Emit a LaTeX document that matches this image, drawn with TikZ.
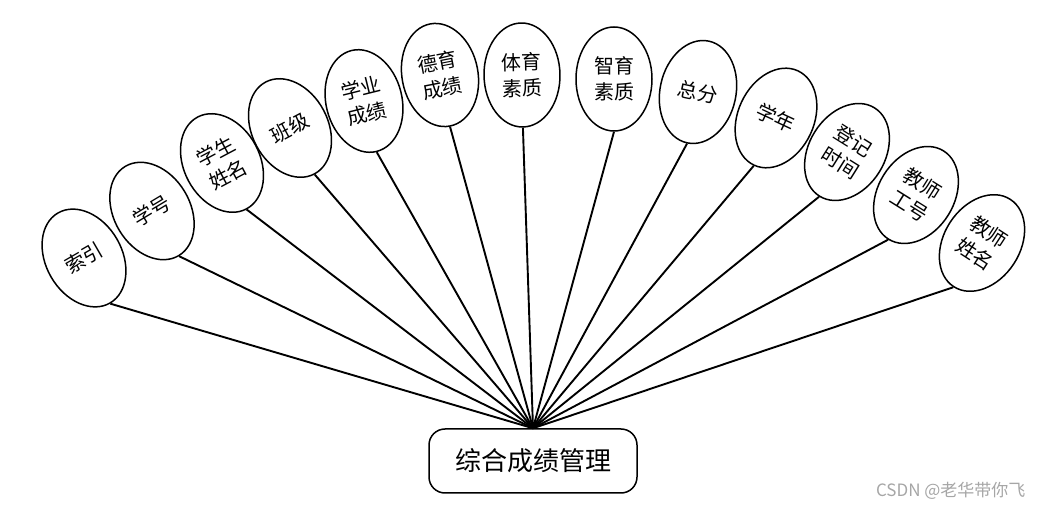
\documentclass[tikz,border=0pt]{standalone}
\usepackage{fontspec}
\setmainfont{Noto Sans CJK SC}
\usetikzlibrary{shapes.geometric}

\begin{document}
\begin{tikzpicture}[
    x=1pt, y=-1pt,
    attr/.style={ellipse, draw, line width=1.5pt, minimum width=76pt, minimum height=104pt, inner sep=0pt, align=center, fill=white, font=\fontsize{20}{26}\selectfont},
    entity/.style={rectangle, draw, rounded corners=16pt, line width=1.5pt, minimum width=208pt, minimum height=64pt, fill=white, font=\fontsize{26}{30}\selectfont},
    link/.style={line width=1.9pt},
]
\useasboundingbox (0,0) rectangle (1045,510);

\node[entity] (score) at (533,461) {综合成绩管理};

\node[attr, rotate=30]  (idx)     at (84,258)  {索引};
\node[attr, rotate=31]  (stuno)   at (152,211) {学号};
\node[attr, rotate=28]  (stuname) at (222,163) {学生\\姓名};
\node[attr, rotate=28]  (class)   at (290,128) {班级};
\node[attr, rotate=14]  (study)   at (364,101) {学业\\成绩};
\node[attr, rotate=11]  (moral)   at (440,75)  {德育\\成绩};
\node[attr, rotate=1]   (sport)   at (522,75)  {体育\\素质};
\node[attr, rotate=0]   (intel)   at (614,79)  {智育\\素质};
\node[attr, rotate=-12] (total)   at (698,92)  {总分};
\node[attr, rotate=-25] (year)    at (776,118) {学年};
\node[attr, rotate=-32] (regtime) at (847,152) {登记\\时间};
\node[attr, rotate=-32] (teano)   at (916,195) {教师\\工号};
\node[attr, rotate=-33] (teaname) at (982,243) {教师\\姓名};

\draw[link] (idx.south)     -- (score.north);
\draw[link] (stuno.south)   -- (score.north);
\draw[link] (stuname.south) -- (score.north);
\draw[link] (class.south)   -- (score.north);
\draw[link] (study.south)   -- (score.north);
\draw[link] (moral.south)   -- (score.north);
\draw[link] (sport.south)   -- (score.north);
\draw[link] (intel.south)   -- (score.north);
\draw[link] (total.south)   -- (score.north);
\draw[link] (year.south)    -- (score.north);
\draw[link] (regtime.south) -- (score.north);
\draw[link] (teano.south)   -- (score.north);
\draw[link] (teaname.south) -- (score.north);

% watermark
\node[anchor=east, text=gray!70, font=\fontsize{17}{20}\selectfont] (mark) at (1029,491) {CSDN @老华带你飞};

\end{tikzpicture}
\end{document}
